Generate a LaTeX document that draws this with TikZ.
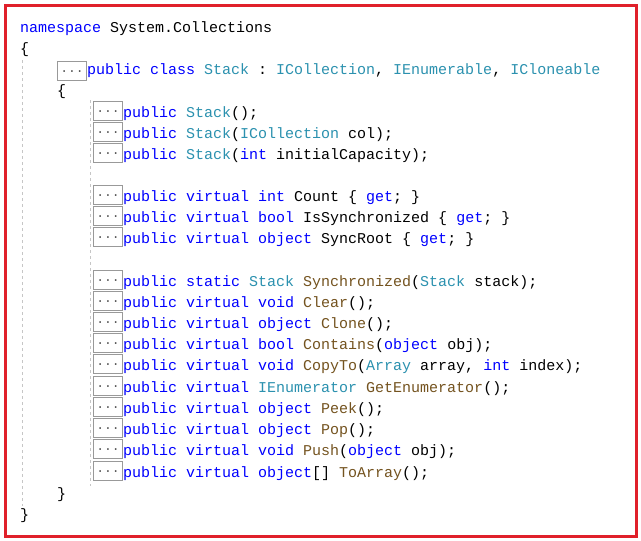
\documentclass[tikz,border=0pt]{standalone}
\usepackage{fontspec}
\setmonofont{Liberation Mono}
\definecolor{kw}{HTML}{0000FF}
\definecolor{ty}{HTML}{2B91AF}
\definecolor{me}{HTML}{74531F}
\definecolor{frame}{HTML}{E0202A}
\newcommand{\K}[1]{\textcolor{kw}{#1}}
\newcommand{\T}[1]{\textcolor{ty}{#1}}
\newcommand{\M}[1]{\textcolor{me}{#1}}
\begin{document}
\begin{tikzpicture}[x=1pt,y=-1pt,
  code/.style={anchor=base west,inner sep=0pt,font=\ttfamily\fontsize{15}{15}\selectfont,text=black},
  fold/.style={draw=gray!80,line width=1.2pt,minimum width=29pt,minimum height=19pt,inner sep=0pt,anchor=north west,font=\ttfamily\fontsize{13}{13}\selectfont,text=gray!70!black},
  guide/.style={draw=gray!45,dashed,line width=0.8pt}]
\useasboundingbox (0,0) rectangle (641,541);
\fill[white] (0,0) rectangle (641,541);
\draw[frame,line width=3pt] (5,5) rectangle (636,536);
\draw[guide] (22,60) -- (22,506);
\draw[guide] (90,100) -- (90,486);
\node[code] (l1) at (20,32) {\K{namespace} System.Collections};
\node[code] (l2) at (20,53) {\{};
\node[fold] (f0) at (57,61) {...};
\node[code] (l3) at (87,74) {\K{public} \K{class} \T{Stack} : \T{ICollection}, \T{IEnumerable}, \T{ICloneable}};
\node[code] (l4) at (57,95) {\{};
\foreach \y/\n/\t in {
 117/a/{\K{public} \T{Stack}();},
 138/b/{\K{public} \T{Stack}(\T{ICollection} col);},
 159/c/{\K{public} \T{Stack}(\K{int} initialCapacity);},
 201/d/{\K{public} \K{virtual} \K{int} Count \{ \K{get}; \}},
 222/e/{\K{public} \K{virtual} \K{bool} IsSynchronized \{ \K{get}; \}},
 243/f/{\K{public} \K{virtual} \K{object} SyncRoot \{ \K{get}; \}},
 286/g/{\K{public} \K{static} \T{Stack} \M{Synchronized}(\T{Stack} stack);},
 307/h/{\K{public} \K{virtual} \K{void} \M{Clear}();},
 328/i/{\K{public} \K{virtual} \K{object} \M{Clone}();},
 349/j/{\K{public} \K{virtual} \K{bool} \M{Contains}(\K{object} obj);},
 370/k/{\K{public} \K{virtual} \K{void} \M{CopyTo}(\T{Array} array, \K{int} index);},
 392/l/{\K{public} \K{virtual} \T{IEnumerator} \M{GetEnumerator}();},
 413/m/{\K{public} \K{virtual} \K{object} \M{Peek}();},
 434/n/{\K{public} \K{virtual} \K{object} \M{Pop}();},
 455/o/{\K{public} \K{virtual} \K{void} \M{Push}(\K{object} obj);},
 477/p/{\K{public} \K{virtual} \K{object}[] \M{ToArray}();}}{
  \node[fold] (f\n) at (93,\y-16) {...};
  \node[code] (m\n) at (123,\y) {\t};
}
\node[code] (l5) at (57,498) {\}};
\node[code] (l6) at (20,519) {\}};
\end{tikzpicture}
\end{document}
